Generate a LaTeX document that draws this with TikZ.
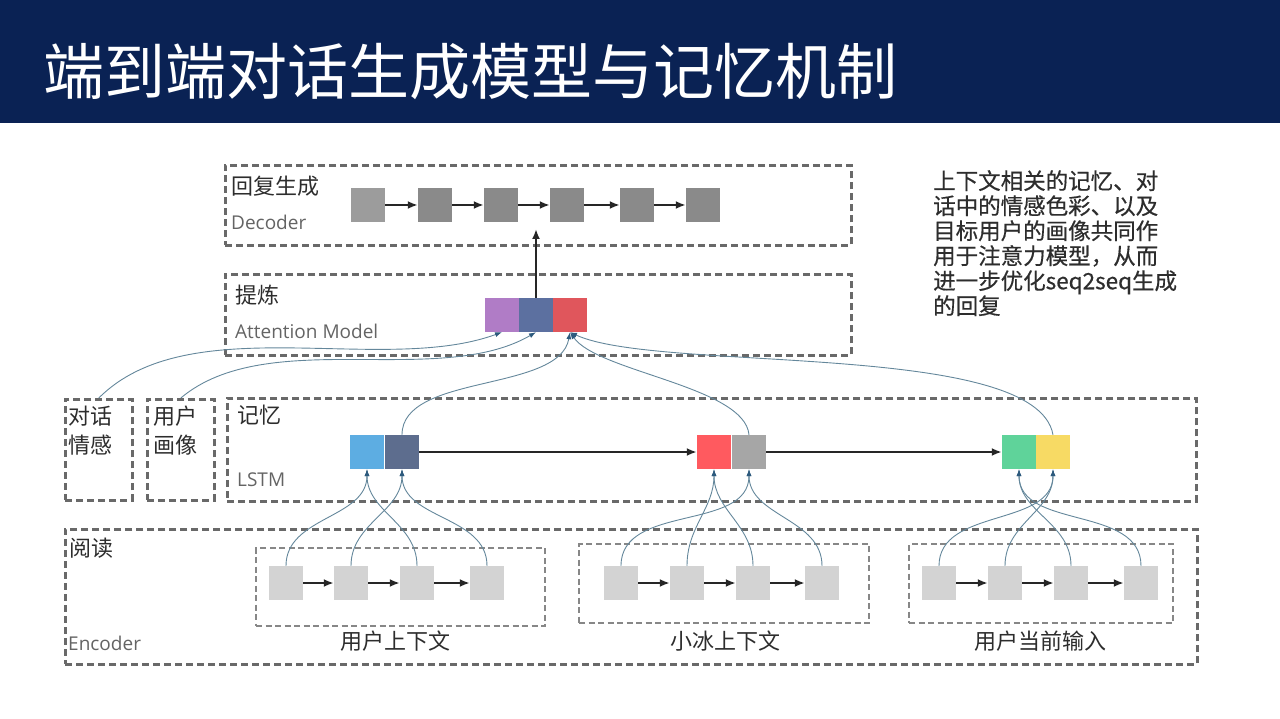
\documentclass[tikz,border=0pt]{standalone}
\usepackage{fontspec}
\setmainfont{Open Sans}
\newfontfamily\cjk{Noto Sans CJK SC}
\newfontfamily\cjkbold[FakeBold=0.5]{Noto Sans CJK SC}
\usetikzlibrary{arrows.meta}
\definecolor{navy}{RGB}{10,34,84}
\definecolor{boxgray}{RGB}{105,105,105}
\definecolor{lightbox}{RGB}{135,135,135}
\definecolor{decgray}{RGB}{138,138,138}
\definecolor{encgray}{RGB}{211,211,211}
\definecolor{linkblue}{RGB}{100,135,155}
\definecolor{linkdark}{RGB}{45,90,125}
\definecolor{textgray}{RGB}{45,45,45}
\definecolor{midgray}{RGB}{100,100,100}
\tikzset{
  dbox/.style={draw=boxgray, line width=2.6pt, dash pattern=on 7pt off 4pt, anchor=north west, inner sep=0pt},
  sbox/.style={draw=lightbox, line width=2pt, dash pattern=on 6pt off 3.5pt, anchor=north west, inner sep=0pt},
  cell/.style={minimum size=34pt, inner sep=0pt},
  dec/.style={cell, fill=decgray},
  enc/.style={cell, fill=encgray},
  chain/.style={-{Latex[length=10pt,width=8pt]}, line width=2.6pt, black!85},
  link/.style={-{Latex[length=7pt,width=5pt,color=linkdark]}, line width=0.9pt, linkblue},
  lbl/.style={anchor=west, inner sep=0pt, align=left, text=textgray, font=\cjk\fontsize{22}{29}\selectfont},
  elbl/.style={anchor=west, inner sep=0pt, text=midgray, font=\fontsize{19}{22}\selectfont},
  sub/.style={inner sep=0pt, text=textgray, font=\cjk\fontsize{22}{24}\selectfont},
}
\begin{document}
\begin{tikzpicture}[x=1pt,y=-1pt]
  \useasboundingbox (0,0) rectangle (1280,719);
  % title bar
  \fill[navy] (0,0) rectangle (1280,123);
  \node[anchor=west, inner sep=0pt, text=white, font=\cjk\fontsize{61}{64}\selectfont] (title) at (43,72) {端到端对话生成模型与记忆机制};

  % boxes
  \node[dbox, minimum width=626pt, minimum height=80pt] (decbox) at (224,164) {};
  \node[dbox, minimum width=626pt, minimum height=81pt] (attbox) at (224,273) {};
  \node[dbox, minimum width=67pt, minimum height=101pt] (emo) at (64,398) {};
  \node[dbox, minimum width=67pt, minimum height=101pt] (prof) at (146,398) {};
  \node[dbox, minimum width=969pt, minimum height=103pt] (lstmbox) at (226,397) {};
  \node[dbox, minimum width=1132pt, minimum height=135pt] (encbox) at (64,528) {};
  \node[sbox, minimum width=289pt, minimum height=78pt] (g1) at (255,547) {};
  \node[sbox, minimum width=290pt, minimum height=79pt] (g2) at (578,543) {};
  \node[sbox, minimum width=264pt, minimum height=79pt] (g3) at (908,543) {};

  % labels
  \node[lbl] (declbl) at (231,186) {回复生成};
  \node[elbl] (decen) at (231,222) {Decoder};
  \node[lbl] (attlbl) at (235,295) {提炼};
  \node[elbl] (atten) at (235,331) {Attention Model};
  \node[lbl] (memlbl) at (237,415) {记忆};
  \node[elbl] (memen) at (237,480) {LSTM};
  \node[lbl] (readlbl) at (69,548) {阅读};
  \node[elbl] (readen) at (68,643) {Encoder};
  \node[lbl] (emolbl) at (68,431) {对话\\情感};
  \node[lbl] (proflbl) at (153,431) {用户\\画像};
  \node[sub] (g1lbl) at (395,641) {用户上下文};
  \node[sub] (g2lbl) at (725,641) {小冰上下文};
  \node[sub] (g3lbl) at (1040,641) {用户当前输入};
  \node[anchor=north west, inner sep=0pt, align=left, text=textgray, font=\cjkbold\fontsize{22.5}{25}\selectfont] (note) at (933,170)
    {上下文相关的记忆、对\\话中的情感色彩、以及\\目标用户的画像共同作\\用于注意力模型，从而\\进一步优化seq2seq生成\\的回复};

  % decoder
  \node[cell, fill=decgray!85] (d1) at (368,205) {};
  \node[dec] (d2) at (435,205) {};
  \node[dec] (d3) at (501,205) {};
  \node[dec] (d4) at (567,205) {};
  \node[dec] (d5) at (637,205) {};
  \node[dec] (d6) at (703,205) {};
  \draw [chain] (d1) -- (d2);
  \draw [chain] (d2) -- (d3);
  \draw [chain] (d3) -- (d4);
  \draw [chain] (d4) -- (d5);
  \draw [chain] (d5) -- (d6);

  % attention
  \node[cell, fill={rgb,255:red,176;green,124;blue,198}] (a1) at (502,315) {};
  \node[cell, fill={rgb,255:red,92;green,112;blue,160}] (a2) at (536,315) {};
  \node[cell, fill={rgb,255:red,224;green,86;blue,92}] (a3) at (570,315) {};
  \coordinate (up) at (536,229);
  \draw [chain] (a2.north) -- (up);

  % lstm
  \node[cell, fill={rgb,255:red,93;green,173;blue,226}] (l1a) at (367,452) {};
  \node[cell, fill={rgb,255:red,93;green,109;blue,142}] (l1b) at (402,452) {};
  \node[cell, fill={rgb,255:red,255;green,90;blue,95}] (l2a) at (714,452) {};
  \node[cell, fill={rgb,255:red,166;green,166;blue,166}] (l2b) at (749,452) {};
  \node[cell, fill={rgb,255:red,95;green,211;blue,154}] (l3a) at (1019,452) {};
  \node[cell, fill={rgb,255:red,247;green,218;blue,100}] (l3b) at (1053,452) {};
  \draw [chain] (l1b) -- (l2a);
  \draw [chain] (l2b) -- (l3a);

  % encoder
  \node[enc] (e11) at (286,583) {};
  \node[enc] (e12) at (351,583) {};
  \node[enc] (e13) at (417,583) {};
  \node[enc] (e14) at (487,583) {};
  \node[enc] (e21) at (621,583) {};
  \node[enc] (e22) at (687,583) {};
  \node[enc] (e23) at (753,583) {};
  \node[enc] (e24) at (822,583) {};
  \node[enc] (e31) at (939,583) {};
  \node[enc] (e32) at (1005,583) {};
  \node[enc] (e33) at (1071,583) {};
  \node[enc] (e34) at (1141,583) {};
  \draw [chain] (e11) -- (e12);
  \draw [chain] (e12) -- (e13);
  \draw [chain] (e13) -- (e14);
  \draw [chain] (e21) -- (e22);
  \draw [chain] (e22) -- (e23);
  \draw [chain] (e23) -- (e24);
  \draw [chain] (e31) -- (e32);
  \draw [chain] (e32) -- (e33);
  \draw [chain] (e33) -- (e34);

  % encoder -> lstm
  \draw [link] (e11.north) to[out=90,in=-90] (l1a.south);
  \draw [link] (e12.north) to[out=90,in=-90] (l1b.south);
  \draw [link] (e13.north) to[out=90,in=-90] (l1a.south);
  \draw [link] (e14.north) to[out=90,in=-90] (l1b.south);
  \draw [link] (e21.north) to[out=90,in=-90] (l2b.south);
  \draw [link] (e22.north) to[out=90,in=-90] (l2a.south);
  \draw [link] (e23.north) to[out=90,in=-90] (l2a.south);
  \draw [link] (e24.north) to[out=90,in=-90] (l2b.south);
  \draw [link] (e31.north) to[out=90,in=-90] (l3b.south);
  \draw [link] (e32.north) to[out=90,in=-90] (l3b.south);
  \draw [link] (e33.north) to[out=90,in=-90] (l3a.south);
  \draw [link] (e34.north) to[out=90,in=-90] (l3a.south);

  % lstm and side boxes -> attention
  \draw [link] (l1b.north) to[out=90,in=-100,looseness=0.8] (a3.south);
  \draw [link] (l2b.north) to[out=95,in=-55,looseness=0.6] (a3.south);
  \draw [link] (l3b.north) to[out=100,in=-25,looseness=0.5] (a3.south);
  \draw [link] (emo.north) to[out=45,in=-160,looseness=0.8] (a1.south);
  \draw [link] (prof.north) to[out=40,in=-150,looseness=0.8] (a2.south);
\end{tikzpicture}
\end{document}
